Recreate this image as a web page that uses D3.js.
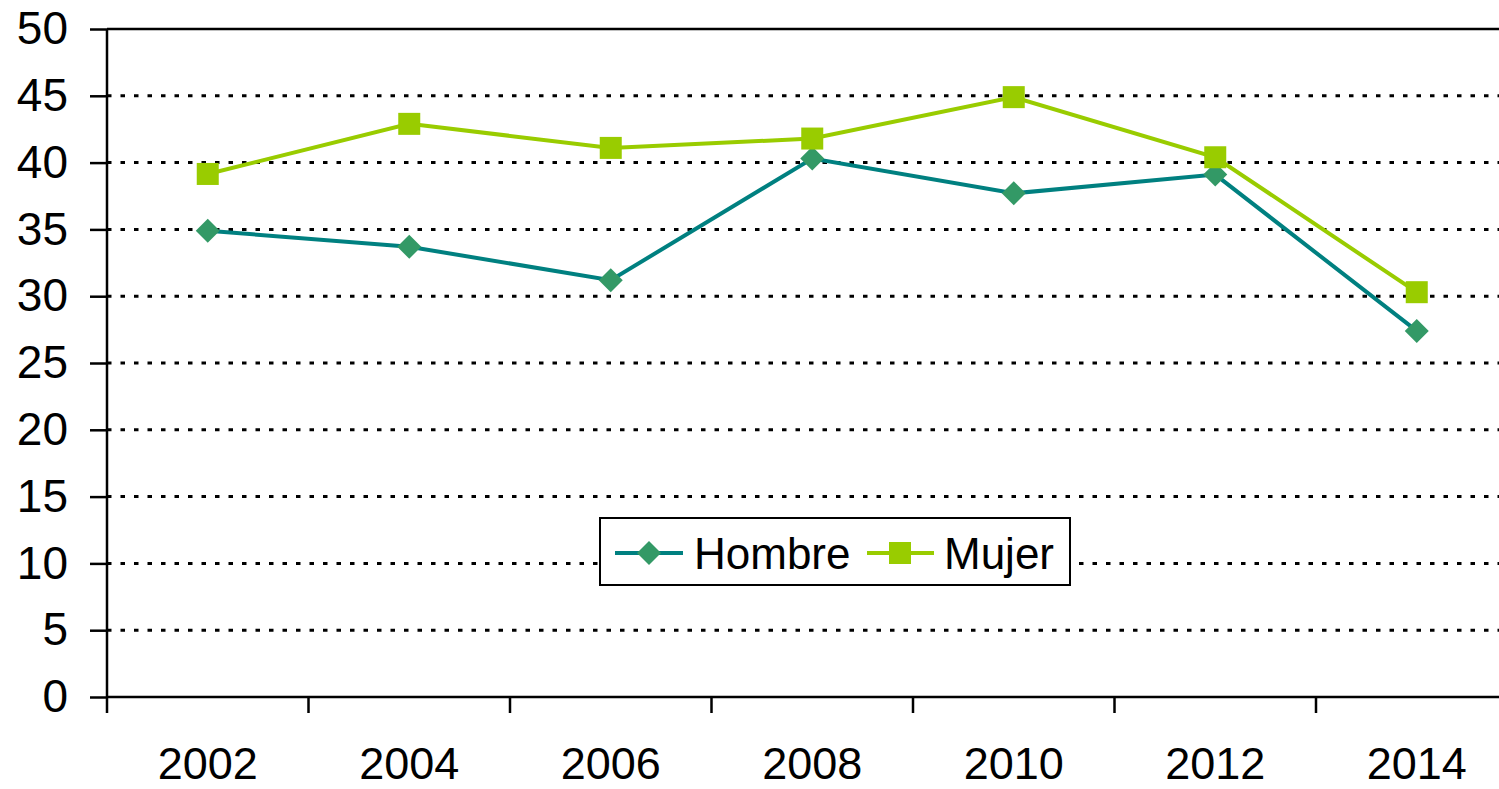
<!DOCTYPE html>
<html>
<head>
<meta charset="utf-8">
<script src="https://cdn.jsdelivr.net/npm/d3@7"></script>
<style>
  html, body { margin: 0; padding: 0; background: #fff; }
  svg { display: block; font-family: "Liberation Sans", Arial, sans-serif; }
</style>
</head>
<body>
<svg id="chart" width="1499" height="789"></svg>
<script>
// data
const years = ["2002", "2004", "2006", "2008", "2010", "2012", "2014"];
const hombre = [34.9, 33.7, 31.2, 40.3, 37.7, 39.1, 27.4];
const mujer = [39.15, 42.9, 41.1, 41.8, 44.9, 40.4, 30.3];
const yTicks = [0, 5, 10, 15, 20, 25, 30, 35, 40, 45, 50];

const svg = d3.select("#chart");
const plotLeft = 107, plotTop = 29, plotBottom = 697;
const plotRight = plotLeft + 7 * 201.5; // plot runs past the window edge

const x = d3.scaleBand().domain(years).range([plotLeft, plotRight]);
const y = d3.scaleLinear().domain([0, 50]).range([plotBottom, plotTop]);

// dotted gridlines
svg.append("g")
    .selectAll("line")
    .data(yTicks.filter(d => d > 0 && d < 50))
    .join("line")
    .attr("x1", plotLeft).attr("x2", plotRight)
    .attr("y1", d => y(d)).attr("y2", d => y(d))
    .attr("stroke", "#000")
    .attr("stroke-width", 3)
    .attr("stroke-dasharray", "4.5,9");

// top border
svg.append("line")
    .attr("x1", plotLeft).attr("x2", plotRight)
    .attr("y1", plotTop).attr("y2", plotTop)
    .attr("stroke", "#000").attr("stroke-width", 2.5);

// y axis
const yAxis = svg.append("g")
    .attr("transform", `translate(${plotLeft},0)`)
    .call(d3.axisLeft(y).tickValues(yTicks).tickSize(17).tickPadding(22));
yAxis.select(".domain").remove();
yAxis.selectAll(".tick line").attr("stroke-width", 2.5);
yAxis.selectAll("text")
    .attr("font-size", 46)
    .attr("fill", "#000")
    .attr("font-family", "Liberation Sans, Arial, sans-serif");
svg.append("line")
    .attr("x1", plotLeft).attr("x2", plotLeft)
    .attr("y1", plotTop).attr("y2", plotBottom + 16)
    .attr("stroke", "#000").attr("stroke-width", 2.5);

// x axis
svg.append("line")
    .attr("x1", plotLeft).attr("x2", plotRight)
    .attr("y1", plotBottom).attr("y2", plotBottom)
    .attr("stroke", "#000").attr("stroke-width", 2.5);
svg.append("g")
    .selectAll("line")
    .data(years.slice(1))
    .join("line")
    .attr("x1", d => x(d)).attr("x2", d => x(d))
    .attr("y1", plotBottom).attr("y2", plotBottom + 16)
    .attr("stroke", "#000").attr("stroke-width", 2.5);
svg.append("g")
    .selectAll("text")
    .data(years)
    .join("text")
    .attr("x", d => x(d) + x.bandwidth() / 2)
    .attr("y", 779)
    .attr("text-anchor", "middle")
    .attr("font-size", 45)
    .attr("fill", "#000")
    .text(d => d);

const cx = (d, i) => x(years[i]) + x.bandwidth() / 2;
const line = d3.line().x((d, i) => cx(d, i)).y(d => y(d));

const diamond = "M0,-12L12,0L0,12L-12,0Z";

// Hombre
svg.append("path")
    .datum(hombre)
    .attr("d", line)
    .attr("fill", "none")
    .attr("stroke", "#008080")
    .attr("stroke-width", 4);
svg.append("g")
    .selectAll("path")
    .data(hombre)
    .join("path")
    .attr("d", diamond)
    .attr("transform", (d, i) => `translate(${cx(d, i)},${y(d)})`)
    .attr("fill", "#339966");

// Mujer
svg.append("path")
    .datum(mujer)
    .attr("d", line)
    .attr("fill", "none")
    .attr("stroke", "#99CC00")
    .attr("stroke-width", 4);
svg.append("g")
    .selectAll("rect")
    .data(mujer)
    .join("rect")
    .attr("x", (d, i) => cx(d, i) - 11)
    .attr("y", d => y(d) - 11)
    .attr("width", 22).attr("height", 22)
    .attr("fill", "#99CC00");

// legend
const legend = svg.append("g");
legend.append("rect")
    .attr("x", 600).attr("y", 518)
    .attr("width", 470).attr("height", 67)
    .attr("fill", "#fff")
    .attr("stroke", "#000").attr("stroke-width", 2);
legend.append("line")
    .attr("x1", 615).attr("x2", 683).attr("y1", 553).attr("y2", 553)
    .attr("stroke", "#008080").attr("stroke-width", 4);
legend.append("path")
    .attr("d", diamond)
    .attr("transform", "translate(649,553)")
    .attr("fill", "#339966");
legend.append("text")
    .attr("x", 694).attr("y", 569)
    .attr("font-size", 44).attr("fill", "#000")
    .text("Hombre");
legend.append("line")
    .attr("x1", 867).attr("x2", 934).attr("y1", 553).attr("y2", 553)
    .attr("stroke", "#99CC00").attr("stroke-width", 4);
legend.append("rect")
    .attr("x", 889).attr("y", 542)
    .attr("width", 22).attr("height", 22)
    .attr("fill", "#99CC00");
legend.append("text")
    .attr("x", 944).attr("y", 569)
    .attr("font-size", 44).attr("fill", "#000")
    .text("Mujer");
</script>
</body>
</html>
